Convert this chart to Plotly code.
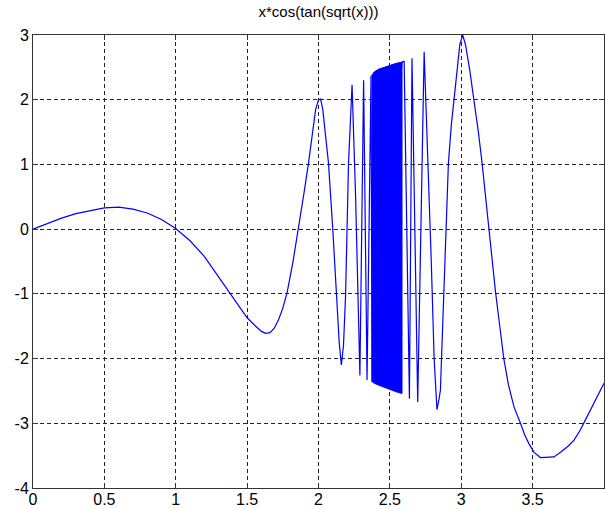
import plotly.graph_objects as go

# Curve points (x, y)
curve_x = [0, 0.1, 0.2, 0.3, 0.4, 0.5, 0.6, 0.7, 0.8, 0.9, 1.0, 1.1, 1.2, 1.3, 1.4, 1.5,
           1.56, 1.60, 1.63, 1.66, 1.69, 1.72, 1.75, 1.78, 1.82, 1.86, 1.90, 1.93, 1.96, 1.98,
           2.00, 2.015, 2.03, 2.05, 2.07, 2.10, 2.125, 2.145, 2.16, 2.175, 2.19, 2.21, 2.235,
           2.26, 2.29, 2.316, 2.34, 2.368, 2.375,
           2.585, 2.60, 2.637, 2.655, 2.695, 2.74, 2.76, 2.79, 2.81, 2.83, 2.845, 2.854,
           2.873, 2.89, 2.91, 2.93, 2.95, 2.97, 2.99, 3.01, 3.03, 3.06, 3.088, 3.12, 3.146,
           3.17, 3.193, 3.22, 3.24, 3.27, 3.298, 3.33, 3.37, 3.415, 3.445, 3.473, 3.51,
           3.555, 3.60, 3.65, 3.70, 3.75, 3.79, 3.83, 3.86, 3.90, 3.95, 4.0]
curve_y = [0, 0.09, 0.17, 0.24, 0.29, 0.33, 0.34, 0.31, 0.25, 0.15, 0.01, -0.18, -0.42, -0.74, -1.06, -1.37,
           -1.50, -1.58, -1.61, -1.60, -1.53, -1.40, -1.22, -0.98, -0.52, 0.0, 0.58, 1.02, 1.55, 1.85,
           2.0, 2.01, 1.85, 1.45, 1.02, 0.0, -1.0, -1.75, -2.10, -1.80, -1.0, 1.0, 2.23,
           0.5, -2.26, 2.30, -2.33, 2.37, -2.36,
           2.58, 2.60, -2.62, 2.64, -2.67, 2.74, 1.5, -0.5, -2.0, -2.79, -2.62, -2.49,
           -1.30, -0.27, 1.02, 1.60, 2.02, 2.50, 2.85, 3.0, 2.85, 2.45, 2.02, 1.50, 1.02,
           0.5, 0.0, -0.55, -0.97, -1.50, -2.0, -2.40, -2.75, -3.0, -3.18, -3.31, -3.45,
           -3.53, -3.53, -3.52, -3.44, -3.35, -3.26, -3.12, -2.99, -2.82, -2.60, -2.38]

# Dense oscillation band (envelope)
band_top_x = [2.372, 2.39, 2.42, 2.46, 2.50, 2.54, 2.585]
band_top_y = [2.37, 2.43, 2.47, 2.50, 2.53, 2.56, 2.58]
band_bot_x = [2.585, 2.54, 2.50, 2.46, 2.42, 2.39, 2.372]
band_bot_y = [-2.54, -2.51, -2.48, -2.45, -2.41, -2.38, -2.35]

x_ticks = [0, 0.5, 1, 1.5, 2, 2.5, 3, 3.5, 4]
x_tick_labels = ["0", "0.5", "1", "1.5", "2", "2.5", "3", "3.5", "4"]
y_ticks = [-4, -3, -2, -1, 0, 1, 2, 3]
y_tick_labels = ["-4", "-3", "-2", "-1", "0", "1", "2", "3"]

title_text = "x*cos(tan(sqrt(x)))"
BLUE = "#0000FF"

fig = go.Figure()
fig.add_trace(go.Scatter(x=band_top_x + band_bot_x, y=band_top_y + band_bot_y,
                         mode="lines", fill="toself", fillcolor=BLUE,
                         line=dict(color=BLUE, width=1), hoverinfo="skip"))
fig.add_trace(go.Scatter(x=curve_x, y=curve_y, mode="lines",
                         line=dict(color=BLUE, width=1.2)))

axis_common = dict(showline=True, linecolor="#333333", linewidth=1, mirror="ticks",
                   ticks="inside", ticklen=5, tickcolor="#333333",
                   showgrid=True, gridcolor="#222222", gridwidth=1, griddash="4px,3px",
                   zeroline=False, automargin=False,
                   tickfont=dict(family="Liberation Sans", size=16, color="black"))

fig.update_xaxes(range=[0, 4], tickvals=x_ticks, ticktext=x_tick_labels,
                 ticklabelstandoff=-3, **axis_common)
fig.update_yaxes(range=[-4, 3], tickvals=y_ticks, ticktext=y_tick_labels, **axis_common)

fig.update_layout(
    width=605, height=509,
    margin=dict(l=33, r=1, t=35, b=21),
    paper_bgcolor="white", plot_bgcolor="white",
    showlegend=False,
    title=dict(text=title_text, xref="paper", x=0.5, xanchor="center",
               y=1 - 12 / 509, yanchor="middle",
               font=dict(family="Liberation Sans", size=15, color="black")),
)

fig.write_html("out.html", config={"displayModeBar": False},
               post_script="document.body.style.margin='0px';")
